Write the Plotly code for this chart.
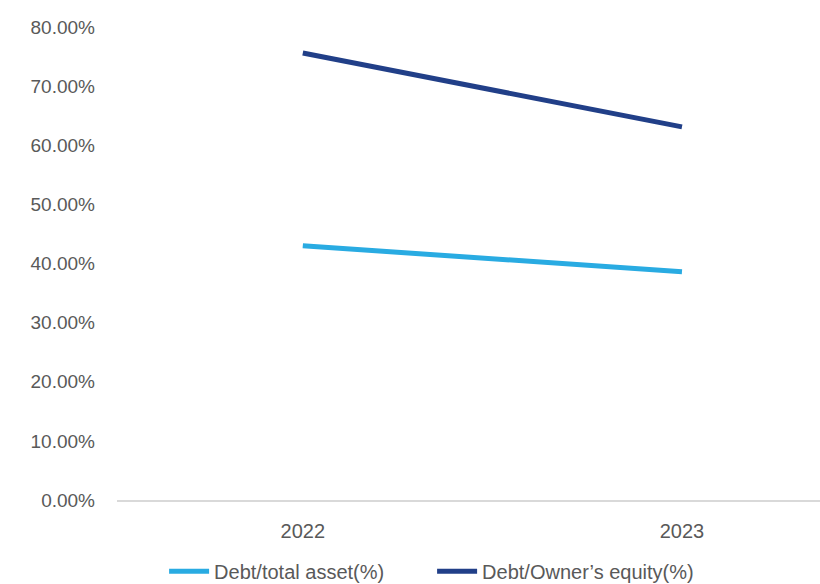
import plotly.graph_objects as go

years = ["2022", "2023"]
debt_total_asset = [43.0, 38.6]
debt_owner_equity = [75.6, 63.1]
y_ticks = [0, 10, 20, 30, 40, 50, 60, 70, 80]
y_tick_labels = [f"{v:.2f}%" for v in y_ticks]

LIGHT = "#29ABE2"
DARK = "#213F88"
TEXT = "#595959"
FONT = "Liberation Sans, Arial, sans-serif"

fig = go.Figure()
fig.add_trace(go.Scatter(
    x=years, y=debt_total_asset, mode="lines", name="Debt/total asset(%)",
    line=dict(color=LIGHT, width=5),
))
fig.add_trace(go.Scatter(
    x=years, y=debt_owner_equity, mode="lines", name="Debt/Owner\u2019s equity(%)",
    line=dict(color=DARK, width=5),
))

fig.update_layout(
    width=820, height=584,
    margin=dict(l=117, r=0, t=27, b=84),
    paper_bgcolor="white", plot_bgcolor="white",
    font=dict(family=FONT, size=20, color=TEXT),
    showlegend=True,
    legend=dict(
        orientation="h", x=0.067, xanchor="left",
        yref="container", y=0.022, yanchor="middle",
        font=dict(family=FONT, size=20, color=TEXT), itemwidth=40,
        entrywidth=213, entrywidthmode="pixels",
        traceorder="normal",
    ),
    xaxis=dict(
        type="category", range=[-0.49, 1.364],
        showgrid=False, zeroline=False, showline=True,
        linecolor="#D9D9D9", linewidth=1.5,
        ticks="", ticklabelstandoff=12,
        tickfont=dict(family=FONT, size=20, color=TEXT),
    ),
    yaxis=dict(
        range=[0, 80], tickvals=y_ticks, ticktext=y_tick_labels,
        showgrid=False, zeroline=False, showline=False,
        ticks="", ticklabelstandoff=21,
        tickfont=dict(family=FONT, size=19, color=TEXT),
    ),
)

fig.write_html("out.html")
